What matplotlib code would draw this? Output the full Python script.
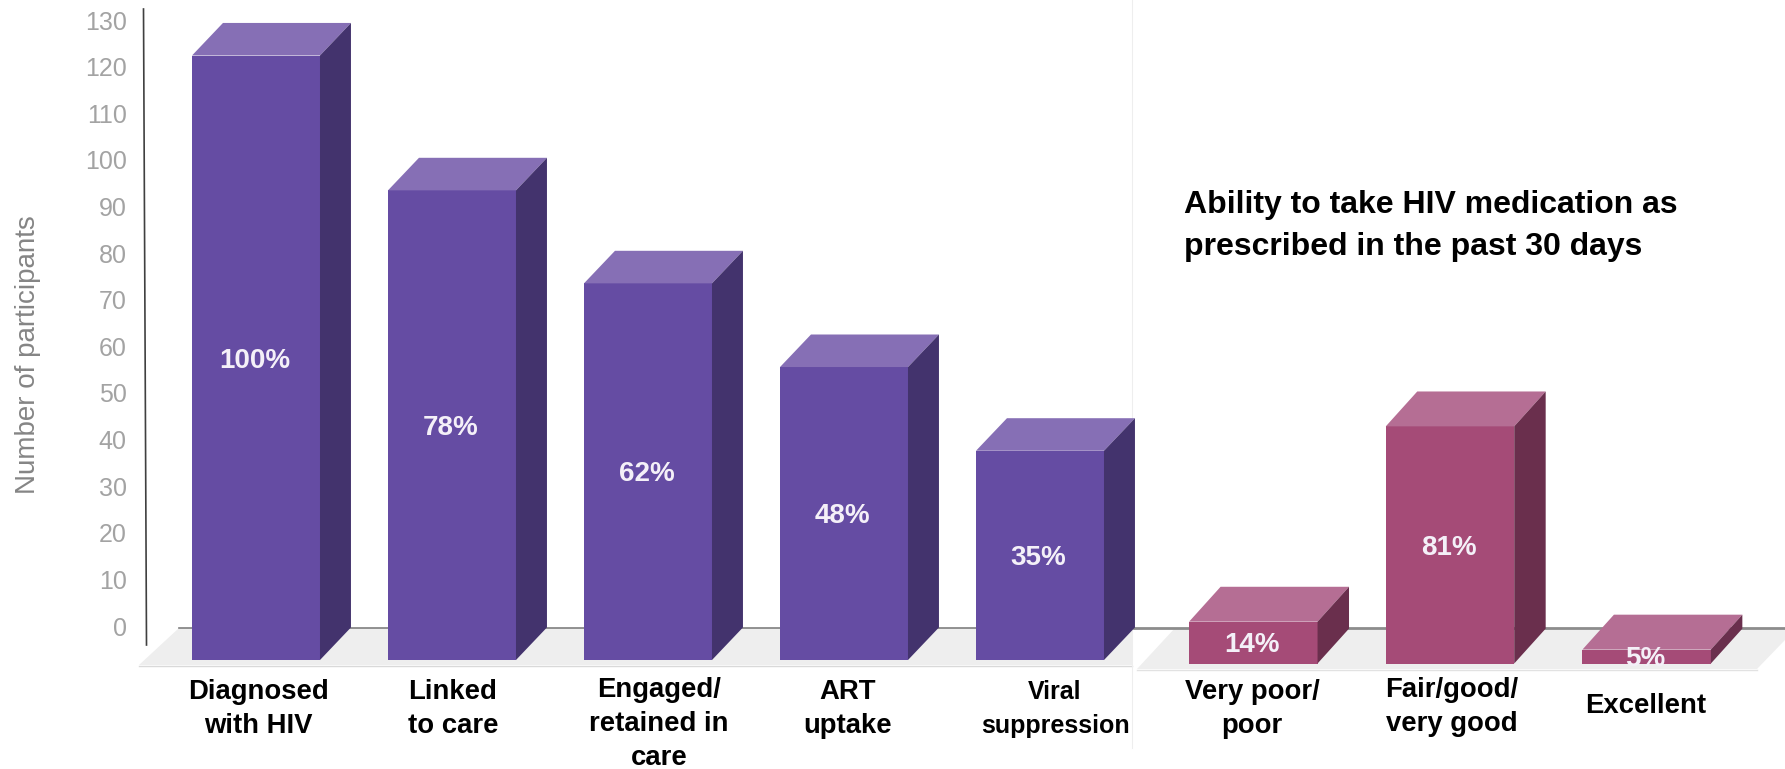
import matplotlib
matplotlib.use("Agg")
import matplotlib.pyplot as plt
from matplotlib.patches import Polygon

# ---- data ----
cascade_categories = ["Diagnosed\nwith HIV", "Linked\nto care", "Engaged/\nretained in\ncare", "ART\nuptake", "Viral\nsuppression"]
cascade_values = [130, 101, 81, 63, 45]
cascade_pct = ["100%", "78%", "62%", "48%", "35%"]
ability_categories = ["Very poor/\npoor", "Fair/good/\nvery good", "Excellent"]
ability_values = [9, 51, 3]
ability_pct = ["14%", "81%", "5%"]
y_ticks = list(range(0, 131, 10))
y_label = "Number of participants"
panel_title = "Ability to take HIV medication as\nprescribed in the past 30 days"

W, H = 1785, 769
plt.rcParams["font.family"] = ["Liberation Sans", "DejaVu Sans"]
fig = plt.figure(figsize=(W / 100, H / 100), dpi=100, facecolor="white")


def px_axes(x0, y_top, x1, y_bot, **kw):
    return fig.add_axes([x0 / W, 1 - y_bot / H, (x1 - x0) / W, (y_bot - y_top) / H], **kw)


# background in pixel coordinates: floors, rules, free text
bg = px_axes(0, 0, W, H)
bg.set_xlim(0, W)
bg.set_ylim(H, 0)
bg.axis("off")
FLOOR = "#EEEEEE"
bg.add_patch(Polygon([(179, 628), (1132, 628), (1132, 665), (139, 665)], fc=FLOOR, ec="none"))
bg.add_patch(Polygon([(1175, 628), (1785, 628), (1785, 640), (1757, 669), (1137, 669)], fc=FLOOR, ec="none"))
bg.plot([179, 1134], [627.5, 627.5], color="#7F7F7F", lw=1.2)
bg.plot([1134, 1785], [628, 628], color="#8C8C8C", lw=2)
bg.plot([139, 1132], [665.5, 665.5], color="#D9D9D9", lw=1)
bg.plot([1137, 1757], [669.5, 669.5], color="#E2E2E2", lw=1)
bg.plot([1132, 1132], [0, 748], color="#EEEEEE", lw=0.8)
bg.plot([143.5, 146.5], [9, 645], color="#404040", lw=1.2)
bg.text(28, 355, y_label, rotation=90, ha="center", va="center", fontsize=20, color="#858585")
bg.text(1184, 226, panel_title, ha="left", va="center", fontsize=23, fontweight="bold",
        color="black", linespacing=1.5)

label_pos = [(258, 709), (453, 709), (659, 724), (848, 709), (1055, 709)]
label_size = [19.8, 19.8, 19.8, 19.8, 18]
for txt, (x, y), fs in zip(cascade_categories, label_pos, label_size):
    bg.text(x, y, txt, ha="center", va="center", fontsize=fs, fontweight="bold", color="black",
            linespacing=33.5 / (fs / 72 * 100 * 0.877))
label_pos2 = [(1252, 709), (1452, 707), (1646, 706)]
for txt, (x, y) in zip(ability_categories, label_pos2):
    bg.text(x, y, txt, ha="center", va="center", fontsize=19.8, fontweight="bold", color="black", linespacing=1.41)

# value axis with ticks on the back wall
tick_ax = px_axes(146, 20, 300, 626)
tick_ax.patch.set_alpha(0)
tick_ax.set_ylim(0, 130)
tick_ax.set_yticks(y_ticks)
tick_ax.tick_params(axis="y", length=0, pad=14, labelsize=18, labelcolor="#A3A3A3")
tick_ax.set_xticks([])
for s in tick_ax.spines.values():
    s.set_visible(False)


def draw_bars(ax, values, pct, front, top, side, depth_x, depth_y):
    width = 0.653
    xs = list(range(len(values)))
    ax.bar(xs, values, width=width, color=front, linewidth=0, zorder=3, clip_on=False)
    for x, v, p in zip(xs, values, pct):
        l, r = x - width / 2, x + width / 2
        ax.add_patch(Polygon([(l, v), (r, v), (r + depth_x, v + depth_y), (l + depth_x, v + depth_y)],
                             fc=top, ec="none", zorder=3, clip_on=False))
        ax.add_patch(Polygon([(r, 0), (r + depth_x, depth_y), (r + depth_x, v + depth_y), (r, v)],
                             fc=side, ec="none", zorder=3, clip_on=False))
        ax.annotate(p, (x, v / 2), xytext=(-1, -2), textcoords="offset points", ha="center", va="center",
                    fontsize=20, fontweight="bold", color="#F4F0F8", zorder=5, annotation_clip=False)


ax1 = px_axes(158, 9, 1138, 660)
ax1.patch.set_alpha(0)
ax1.set_xlim(-0.5, 4.5)
ax1.set_ylim(0, 140)
ax1.axis("off")
draw_bars(ax1, cascade_values, cascade_pct, "#654CA3", "#866FB5", "#43336D", 0.158, 7.0)

ax2 = px_axes(1155, 384.5, 1745, 663.5)
ax2.patch.set_alpha(0)
ax2.set_xlim(-0.5, 2.5)
ax2.set_ylim(0, 60)
ax2.axis("off")
draw_bars(ax2, ability_values, ability_pct, "#A54B77", "#B56E94", "#6A2F4D", 0.16, 7.5)

fig.savefig("out.png", dpi=100)
